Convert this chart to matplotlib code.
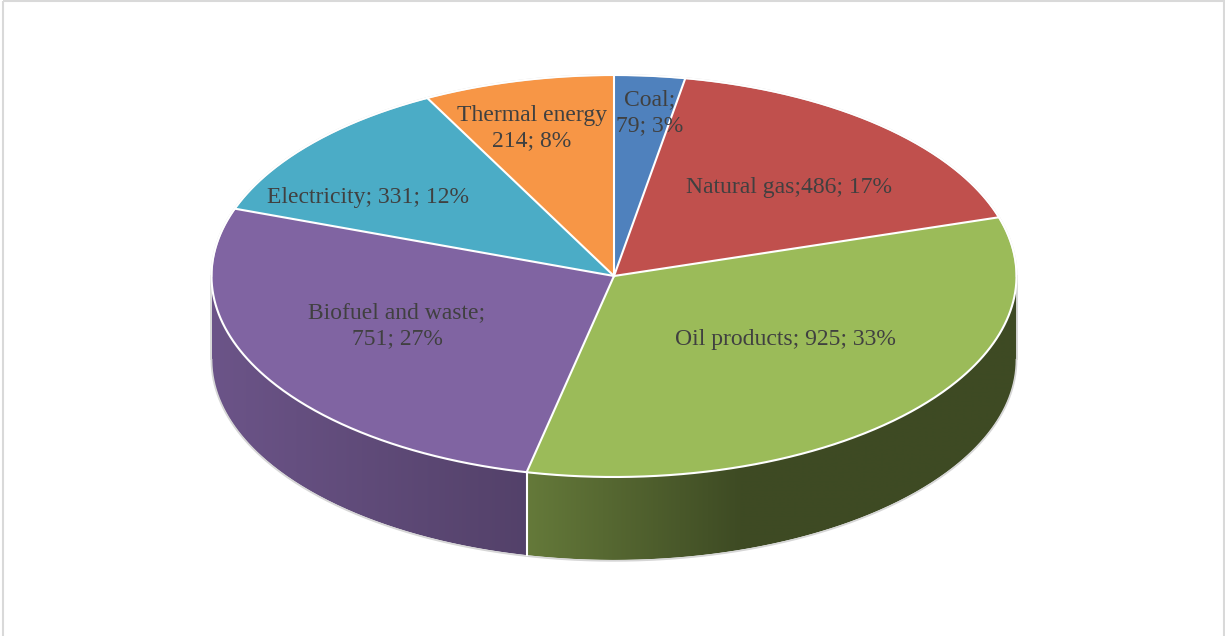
import numpy as np
import matplotlib.pyplot as plt
from matplotlib.patches import Polygon, Rectangle

categories = ['Coal', 'Natural gas', 'Oil products', 'Biofuel and waste',
              'Electricity', 'Thermal energy']
values = [79, 486, 925, 751, 331, 214]
colors = ['#4f81bd', '#c0504d', '#9bbb59', '#8064a2', '#4bacc6', '#f79646']
label_fmt = ['{c};\n{v}; {p}%', '{c};{v}; {p}%', '{c}; {v}; {p}%',
             '{c};\n{v}; {p}%', '{c}; {v}; {p}%', '{c}\n{v}; {p}%']
label_xy = [(650, 113), (789, 187), (785, 339), (397, 326), (368, 197), (532, 128)]

# pie geometry in pixel coords
cx, cy, rx, ry, depth = 614, 276, 402.5, 201, 83
# side wall shading (brightness factor vs x)
shade_x = [212, 527, 740, 1017]
shade_f = [0.84, 0.65, 0.40, 0.40]


def rim(theta, dy=0.0):
    t = np.radians(theta)
    return cx + rx * np.sin(t), cy - ry * np.cos(t) + dy


fig = plt.figure(figsize=(12.25, 6.36), dpi=100)
ax = fig.add_axes([0, 0, 1, 1])
ax.axis('off')

total = sum(values)
edges = np.concatenate([[0], np.cumsum(values) / total * 360])

# side walls (only the front half is visible)
for i, col in enumerate(colors):
    lo, hi = max(edges[i], 90), min(edges[i + 1], 270)
    if lo >= hi:
        continue
    t = np.linspace(lo, hi, 300)
    xt, yt = rim(t)
    xb, yb = rim(t[::-1], depth)
    verts = np.column_stack([np.r_[xt, xb], np.r_[yt, yb]])
    poly = Polygon(verts, closed=True, facecolor='none', edgecolor='none')
    ax.add_patch(poly)
    x0, x1 = verts[:, 0].min(), verts[:, 0].max()
    xs = np.linspace(x0, x1, int(x1 - x0) + 2)
    f = np.interp(xs, shade_x, shade_f)
    base = np.array(plt.matplotlib.colors.to_rgb(col))
    img = (f[:, None] * base[None, :])[None, :, :]
    im = ax.imshow(img, extent=(x0, x1, verts[:, 1].max(), verts[:, 1].min()),
                   aspect='auto', interpolation='bilinear', zorder=1)
    im.set_clip_path(poly)

# top faces
for i, col in enumerate(colors):
    t = np.linspace(edges[i], edges[i + 1], 300)
    xt, yt = rim(t)
    verts = np.column_stack([np.r_[cx, xt], np.r_[cy, yt]])
    ax.add_patch(Polygon(verts, closed=True, facecolor=col, edgecolor='none', zorder=2))

# outer silhouette
t = np.linspace(-90, 90, 400)
ax.plot(*rim(t), color='#d6d6d6', lw=1.3, zorder=3)
t = np.linspace(90, 270, 400)
ax.plot(*rim(t, depth + 0.8), color='#d6d6d6', lw=1.3, zorder=3)
for side in (-1, 1):
    ax.plot([cx + side * (rx + 0.6)] * 2, [cy, cy + depth], color='#d6d6d6', lw=1.3, zorder=3)

# white separators
ax.plot(*rim(np.linspace(0, 360, 800)), color='white', lw=1.5, zorder=4)
for a in edges[:-1]:
    x, y = rim(a)
    ax.plot([cx, x], [cy, y], color='white', lw=1.5, zorder=4)
    if 90 < a < 270:
        ax.plot([x, x], [y, y + depth], color='white', lw=1.5, zorder=4)

# data labels
for i, c in enumerate(categories):
    pct = round(values[i] / total * 100)
    txt = label_fmt[i].format(c=c, v=values[i], p=pct)
    ax.text(label_xy[i][0], label_xy[i][1], txt, ha='center', va='center',
            multialignment='center', fontsize=17, family='Liberation Serif',
            color='#404040', linespacing=1.3, zorder=5)

ax.add_patch(Rectangle((2.5, 0.5), 1221, 640, facecolor='none',
                       edgecolor='#d9d9d9', lw=1.5, zorder=6))

ax.set_xlim(0, 1225)
ax.set_ylim(636, 0)
fig.savefig('out.png', dpi=100)
